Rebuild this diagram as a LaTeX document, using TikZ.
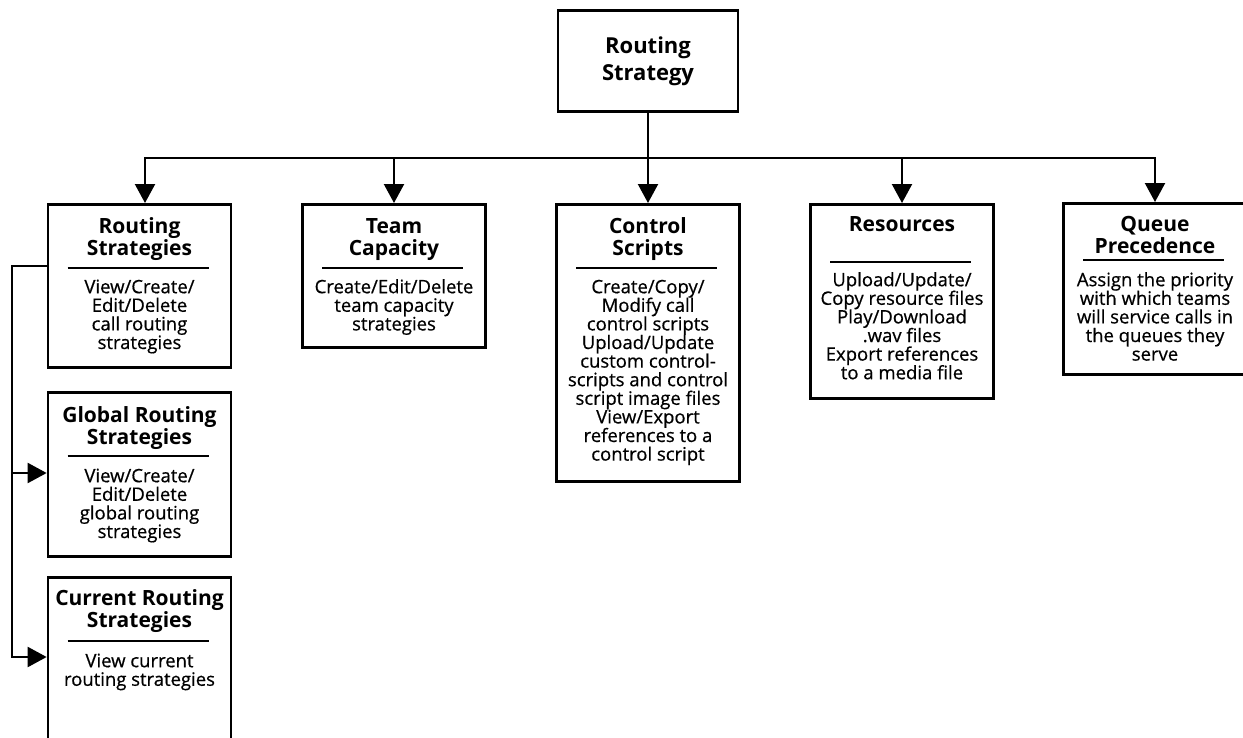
\documentclass[tikz,border=0pt]{standalone}
\usepackage{fontspec}
\setmainfont{Open Sans}
\newfontfamily\bodyface{Open Sans}[FakeBold=0.6]
\newfontfamily\headface{Open Sans}
\usetikzlibrary{arrows.meta}
\newcommand\bodystrut{\rule{0pt}{16pt}}
\newcommand\headstrut{\rule{0pt}{18pt}}
\newcommand\rootstrut{\rule{0pt}{19pt}}
\begin{document}
\lineskiplimit=-50pt
\begin{tikzpicture}[x=1pt,y=-1pt,
  box/.style={draw, line width=2.7pt, inner sep=0pt, minimum width=183pt, anchor=north},
  head/.style={anchor=north, inner sep=0pt, align=center,
    font=\headface\bfseries\fontsize{21}{22}\selectfont},
  roothead/.style={head, font=\headface\bfseries\fontsize{22}{27}\selectfont},
  body/.style={anchor=north, inner sep=0pt, align=center,
    font=\bodyface\fontsize{18.5}{18.6}\selectfont},
  sep/.style={line width=2.2pt},
  link/.style={line width=2.2pt},
  arr/.style={link, -{Triangle[length=19pt,width=20pt]}}]
\useasboundingbox (0,0) rectangle (1243,737);
\clip (0,0) rectangle (1243,737);

% boxes
\node[box, minimum width=180pt, minimum height=101pt] (root) at (648,9) {};
\node[box, minimum height=163pt] (rs)  at (139.5,203) {};
\node[box, minimum height=143pt] (tc)  at (394,203) {};
\node[box, minimum height=277pt] (cs)  at (648,203) {};
\node[box, minimum height=194pt] (res) at (902,203) {};
\node[box, minimum height=171pt] (qp)  at (1155,202) {};
\node[box, minimum height=164pt] (grs) at (139.5,391) {};
\node[box, minimum height=200pt] (crs) at (139.5,576) {};

% texts
\node[roothead] (rootT) at (648,34) {\rootstrut Routing\\Strategy};

\node[head] (rsT) at (139.5,215) {\headstrut Routing\\Strategies};
\node[body] (rsB) at (139.5,277) {\bodystrut View/Create/\\Edit/Delete\\call routing\\strategies};

\node[head] (tcT) at (394,215) {\headstrut Team\\Capacity};
\node[body] (tcB) at (394,277) {\bodystrut Create/Edit/Delete\\team capacity\\strategies};

\node[head] (csT) at (648,215) {\headstrut Control\\Scripts};
\node[body] (csB) at (648,277) {\bodystrut Create/Copy/\\Modify call\\control scripts\\Upload/Update\\custom control-\\scripts and control\\script image files\\View/Export\\references to a\\control script};

\node[head] (resT) at (902,213) {\headstrut Resources};
\node[body] (resB) at (902,270) {\bodystrut Upload/Update/\\Copy resource files\\Play/Download\\.wav files\\Export references\\to a media file};

\node[head] (qpT) at (1155,213) {\headstrut Queue\\Precedence};
\node[body] (qpB) at (1155,270) {\bodystrut Assign the priority\\with which teams\\will service calls in\\the queues they\\serve};

\node[head] (grsT) at (139.5,404) {\headstrut Global Routing\\Strategies};
\node[body] (grsB) at (139.5,466) {\bodystrut View/Create/\\Edit/Delete\\global routing\\strategies};

\node[head] (crsT) at (139.5,587) {\headstrut Current Routing\\Strategies};
\node[body] (crsB) at (139.5,651) {\bodystrut View current\\routing strategies};

% separators under the box titles
\draw[sep] ([xshift=21pt]rs.north west)  ++(0,65) -- ++(141,0);
\draw[sep] ([xshift=21pt]tc.north west)  ++(0,65) -- ++(141,0);
\draw[sep] ([xshift=21pt]cs.north west)  ++(0,65) -- ++(141,0);
\draw[sep] ([xshift=21pt]res.north west) ++(0,59) -- ++(141,0);
\draw[sep] ([xshift=21pt]qp.north west)  ++(0,58) -- ++(141,0);
\draw[sep] ([xshift=21pt]grs.north west) ++(0,65) -- ++(141,0);
\draw[sep] ([xshift=21pt]crs.north west) ++(0,65) -- ++(141,0);

% top distribution bar
\coordinate (t1) at (145,158);
\coordinate (t3) at (648,158);
\coordinate (t5) at (1155,158);
\draw[link] (root.south) -- (t3);
\draw[arr] (t3) -- (t1) -- (t1 |- rs.north);
\draw[arr] (t3) -- (t5) -- (t5 |- qp.north);
\draw[arr] (t3) -- (cs.north);
\draw[arr] (t3 -| tc.north) -- (tc.north);
\draw[arr] (t3 -| res.north) -- (res.north);

% left branch
\coordinate (j1) at (12,266);
\coordinate (j2) at (12,473);
\coordinate (j3) at (12,657);
\draw[arr] (rs.west |- j1) -- (j1) -- (j3) -- (j3 -| crs.west);
\draw[arr] (j2) -- (j2 -| grs.west);
\end{tikzpicture}
\end{document}
